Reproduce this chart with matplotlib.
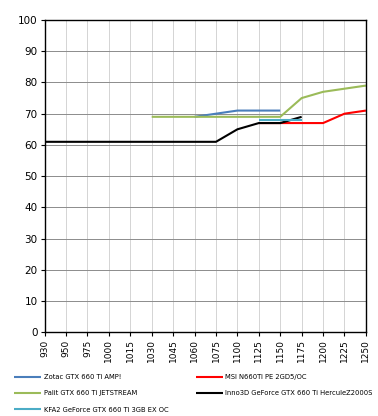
import numpy as np
import matplotlib
matplotlib.use("Agg")
import matplotlib.pyplot as plt

# core clock categories (MHz) and boost/temperature readings
clocks = ["930", "950", "975", "1000", "1015", "1030", "1045", "1060",
          "1075", "1100", "1125", "1150", "1175", "1200", "1225", "1250"]

nan = np.nan
zotac = [nan, nan, nan, nan, nan, nan, nan, 69, 70, 71, 71, 71, nan, nan, nan, nan]
msi = [nan, nan, nan, nan, nan, nan, nan, nan, nan, nan, 67, 67, 67, 67, 70, 71]
palit = [nan, nan, nan, nan, nan, 69, 69, 69, 69, 69, 69, 69, 75, 77, 78, 79]
inno = [61, 61, 61, 61, 61, 61, 61, 61, 61, 65, 67, 67, 69, nan, nan, nan]
kfa2 = [nan, nan, nan, nan, nan, nan, nan, nan, nan, nan, 68, 68, 68, nan, nan, nan]

series = [
    ("Zotac GTX 660 Ti AMP!", zotac, "#4A7EBB"),
    ("MSI N660Ti PE 2GD5/OC", msi, "#FF0000"),
    ("Palit GTX 660 Ti JETSTREAM", palit, "#9BBB59"),
    ("Inno3D GeForce GTX 660 Ti HerculeZ2000S", inno, "#000000"),
    ("KFA2 GeForce GTX 660 Ti 3GB EX OC", kfa2, "#4BACC6"),
]


def main():
    fig = plt.figure(figsize=(3.78, 4.16), dpi=100)
    ax = fig.add_axes([0.118, 0.201, 0.850, 0.751])

    x = np.arange(len(clocks))
    lines = {}
    for name, vals, col in series:
        (ln,) = ax.plot(x, vals, color=col, lw=1.5, solid_capstyle="butt")
        lines[name] = ln

    ax.set_xlim(0, len(clocks) - 1)
    ax.set_ylim(0, 100)
    ax.set_yticks(range(0, 101, 10))
    ax.set_xticks(x)
    ax.set_xticklabels(clocks, rotation=90, fontsize=6.5)
    ax.tick_params(axis="y", labelsize=7.5, length=3, width=0.8, pad=2)
    ax.tick_params(axis="x", length=3, width=0.8, pad=2)

    ax.grid(axis="y", color="#8c8c8c", lw=0.7)
    ax.grid(axis="x", color="#d4d4d4", lw=0.7)
    ax.set_axisbelow(True)
    for sp in ax.spines.values():
        sp.set_color("black")
        sp.set_linewidth(1.0)

    # legend below, column-major order to match the reference rows
    order = [0, 2, 4, 1, 3]
    handles = [lines[series[i][0]] for i in order]
    labels = [series[i][0] for i in order]
    fig.legend(handles, labels, loc="upper left", bbox_to_anchor=(0.03, 0.107),
               ncol=2, frameon=False, fontsize=4.9, handlelength=4.0,
               handletextpad=0.35, columnspacing=4.0, labelspacing=1.5,
               borderaxespad=0)

    fig.savefig("out.png", dpi=100)


if __name__ == "__main__":
    main()
